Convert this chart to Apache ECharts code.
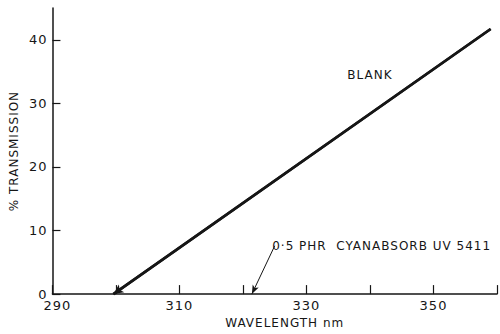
<!DOCTYPE html>
<html>
<head>
<meta charset="utf-8">
<script src="https://cdn.jsdelivr.net/npm/echarts@6/dist/echarts.min.js"></script>
<style>html,body{margin:0;padding:0;background:#fff;}#c{width:500px;height:334px;letter-spacing:1px;}</style>
</head>
<body>
<div id="c"></div>
<script>
// Data
var xTicks = [290, 300, 310, 320, 330, 340, 350, 360];
var xLabels = [290, 310, 330, 350];
var yTicks = [0, 10, 20, 30, 40];
var blankLine = [[299.6, 0], [359, 41.7]];
var blankLabel = {text: 'BLANK', at: [340, 34.4]};
var uvArrow = [[325.0, 7.6], [321.4, 0]];
var uvLabel = {text: '0·5 PHR  CYANABSORB UV 5411', at: [324.6, 7.5]};

var font = '"DejaVu Sans", Verdana, sans-serif';
var ink = '#161616';
var chart = echarts.init(document.getElementById('c'), null, {renderer: 'svg'});
chart.setOption({
  animation: false,
  backgroundColor: '#fff',
  grid: {left: 45, right: 3, top: 8, bottom: 32},
  xAxis: {
    type: 'value', min: 290, max: 360, interval: 10,
    name: 'WAVELENGTH nm', nameLocation: 'middle', nameGap: 20,
    nameTextStyle: {fontFamily: font, fontSize: 12, color: ink, padding: [0, 0, 0, 20]},
    axisLine: {lineStyle: {color: ink, width: 1.5}},
    axisTick: {inside: true, length: 9, customValues: xTicks, lineStyle: {color: ink, width: 1.2}},
    axisLabel: {
      customValues: xLabels, margin: 5, fontFamily: font, fontSize: 13, color: ink,
      formatter: function (v) { return v === 290 ? '{a|290}' : String(v); },
      rich: {a: {fontFamily: font, fontSize: 13, color: ink, padding: [0, 0, 0, 10]}}
    },
    splitLine: {show: false}
  },
  yAxis: {
    type: 'value', min: 0, max: 45, interval: 10,
    name: '% TRANSMISSION', nameLocation: 'middle', nameGap: 28, nameRotate: 90,
    nameTextStyle: {fontFamily: font, fontSize: 12, color: ink},
    axisLine: {lineStyle: {color: ink, width: 1.5}},
    axisTick: {inside: true, length: 8, customValues: yTicks, lineStyle: {color: ink, width: 1.2}},
    axisLabel: {customValues: yTicks, margin: 5, fontFamily: font, fontSize: 13, color: ink},
    splitLine: {show: false}
  },
  series: [{
    type: 'line',
    data: blankLine,
    symbol: 'none',
    lineStyle: {color: ink, width: 2.6},
    markLine: {
      silent: true,
      symbol: ['arrow', 'none'],
      symbolSize: [7, 10],
      lineStyle: {color: ink, width: 2.6, type: 'solid'},
      label: {show: false},
      data: [
        [{coord: blankLine[0]}, {coord: blankLine[1]}],
        [{coord: uvArrow[0], lineStyle: {width: 1}, symbol: 'none'}, {coord: uvArrow[1], symbol: 'arrow', symbolSize: [5, 9]}]
      ]
    },
    markPoint: {
      silent: true,
      symbol: 'circle', symbolSize: 0,
      label: {show: true, fontFamily: font, color: ink},
      data: [
        {coord: blankLabel.at, label: {formatter: blankLabel.text, fontSize: 12, position: 'inside'}},
        {coord: uvLabel.at, label: {formatter: uvLabel.text, fontSize: 12, position: 'right', distance: 0}}
      ]
    }
  }]
});
</script>
</body>
</html>
